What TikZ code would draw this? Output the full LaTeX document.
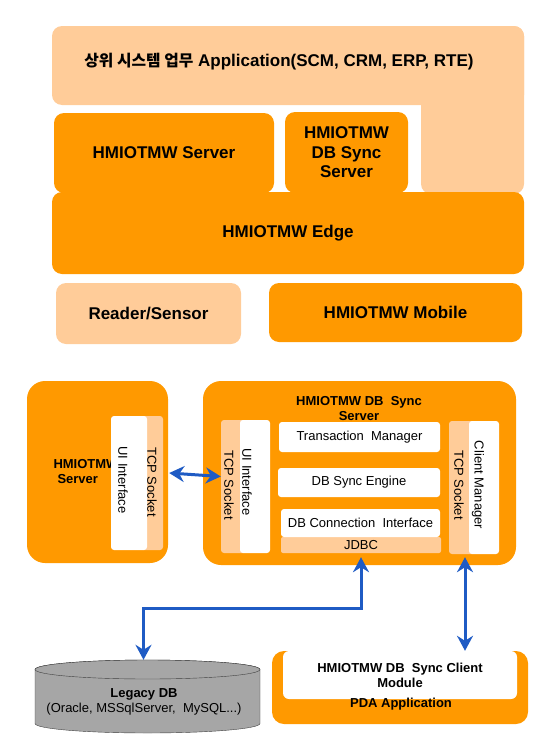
\documentclass[tikz,border=0pt]{standalone}
\usepackage{fontspec}
\setmainfont{Liberation Sans}
\newfontfamily\kofont{Noto Sans CJK KR}
\usetikzlibrary{arrows.meta}
\definecolor{hmorange}{RGB}{255,153,0}
\definecolor{hmpeach}{RGB}{255,204,153}
\definecolor{hmblue}{RGB}{31,91,196}
\definecolor{dbgray}{RGB}{166,166,166}
\definecolor{dbedge}{RGB}{64,64,64}

\begin{document}
\begin{tikzpicture}[x=1pt,y=-1pt,
  big/.style={font=\fontsize{17}{19.5}\selectfont\bfseries, align=center},
  small/.style={font=\fontsize{13}{15}\selectfont, align=center},
  smallb/.style={font=\fontsize{13}{15}\selectfont\bfseries, align=center},
  obox/.style={fill=hmorange, rounded corners=10pt, inner sep=0pt},
  pbox/.style={fill=hmpeach, rounded corners=10pt, inner sep=0pt},
  wbox/.style={fill=white, rounded corners=3pt, inner sep=0pt},
  link/.style={draw=hmblue, line width=3pt,
    {Stealth[length=15pt,width=16pt,inset=5pt]}-{Stealth[length=15pt,width=16pt,inset=5pt]}}]
  \useasboundingbox (0,0) rectangle (550,736);

  % upper layers
  \fill [hmpeach, rounded corners=10pt] (52,26) rectangle (524,105);
  \fill [hmpeach, rounded corners=10pt] (421,26) rectangle (524,194);
  \node [big] (app) at (279,62) {{\kofont\fontsize{15.8}{19}\selectfont 상위 시스템 업무} Application(SCM, CRM, ERP, RTE)};
  \node [obox, big, minimum width=220pt, minimum height=80pt] (server) at (164,153) {HMIOTMW Server};
  \node [obox, big, minimum width=123pt, minimum height=81pt] (dbsync) at (346.5,152.5) {HMIOTMW\\DB Sync\\Server};
  \node [obox, big, minimum width=472pt, minimum height=82pt] (edge) at (288,233) {HMIOTMW Edge};
  \node [pbox, big, minimum width=185pt, minimum height=61pt] (reader) at (148.5,313.5) {Reader/Sensor};
  \node [obox, big, minimum width=253pt, minimum height=59pt] (mobile) at (395.5,312.5) {HMIOTMW Mobile};

  % HMIOTMW server
  \node [obox, rounded corners=18pt, minimum width=141pt, minimum height=182pt] (uisrv) at (97.5,472) {};
  \node [smallb, align=left, anchor=west] (uisrvlbl) at (50,472) {HMIOTMW\\\hspace*{4pt}Server};
  \node [pbox, rounded corners=3pt, minimum width=22pt, minimum height=134pt] (uitcp) at (152,483) {};
  \node [wbox, minimum width=36pt, minimum height=134pt] (uiif) at (129,483) {};
  \node [small, rotate=-90] (uiiflbl) at (123,480) {UI Interface};
  \node [small, rotate=-90] (uitcplbl) at (152,482) {TCP Socket};

  % DB sync server
  \node [obox, rounded corners=18pt, minimum width=313pt, minimum height=184pt] (sync) at (359.5,473) {};
  \node [smallb] (synclbl) at (359,408.5) {HMIOTMW DB\ \ Sync\\Server};
  \node [pbox, rounded corners=3pt, minimum width=25pt, minimum height=133pt] (synctcpl) at (233.5,486.5) {};
  \node [wbox, minimum width=30pt, minimum height=133pt] (syncuil) at (255,486.5) {};
  \node [small, rotate=-90] (synctcpllbl) at (229,485) {TCP Socket};
  \node [small, rotate=-90] (syncuillbl) at (247,482) {UI Interface};
  \node [wbox, small, minimum width=161pt, minimum height=30pt] (trans) at (359.5,437) {Transaction\ \ Manager};
  \node [wbox, small, minimum width=162pt, minimum height=29pt] (engine) at (359,482.5) {DB Sync Engine};
  \node [pbox, small, rounded corners=2pt, minimum width=160pt, minimum height=16pt] (jdbc) at (361,545) {JDBC};
  \node [wbox, small, minimum width=159pt, minimum height=28pt] (dbconn) at (360.5,523) {DB Connection\ \ Interface};
  \node [pbox, rounded corners=3pt, minimum width=26pt, minimum height=133pt] (synctcpr) at (462,487.5) {};
  \node [wbox, minimum width=30pt, minimum height=133pt] (client) at (484,487.5) {};
  \node [small, rotate=-90] (synctcprlbl) at (459,485) {TCP Socket};
  \node [small, rotate=-90] (clientlbl) at (478,485) {Client Manager};

  % legacy DB (cylinder) and PDA
  \draw [dbedge, fill=dbgray] (35,669.5) -- (35,723.5) arc [start angle=180, end angle=360, x radius=112.5pt, y radius=9.5pt] -- (260,669.5) arc [start angle=0, end angle=180, x radius=112.5pt, y radius=9.5pt] -- cycle;
  \draw [dbedge, fill=dbgray] (147.5,669.5) ellipse [x radius=112.5pt, y radius=9.5pt];
  \node [minimum width=225pt, minimum height=73pt, inner sep=0pt] (legacy) at (147.5,696.5) {};
  \node [small] (legacylbl) at (144,702) {\textbf{Legacy DB}\\(Oracle, MSSqlServer,\ \ MySQL...)};
  \node [obox, rounded corners=12pt, minimum width=256pt, minimum height=73pt] (pda) at (400,687.5) {};
  \node [wbox, smallb, rounded corners=6pt, minimum width=234pt, minimum height=48pt] (module) at (400,675) {HMIOTMW DB\ \ Sync Client\\Module};
  \node [smallb] (pdalbl) at (401,704) {PDA Application};

  % links
  \draw [link] ([xshift=6pt,yshift=10pt]uitcp.east) -- ([yshift=10pt]synctcpl.west);
  \draw [link] ([xshift=-4pt]legacy.north) |- ([yshift=-43pt]sync.south -| jdbc.south) -- ([yshift=8pt]sync.south -| jdbc.south);
  \draw [link] ([xshift=3pt]synctcpr.south |- pda.north) -- ([xshift=3pt,yshift=8pt]synctcpr.south |- sync.south);
\end{tikzpicture}
\end{document}
